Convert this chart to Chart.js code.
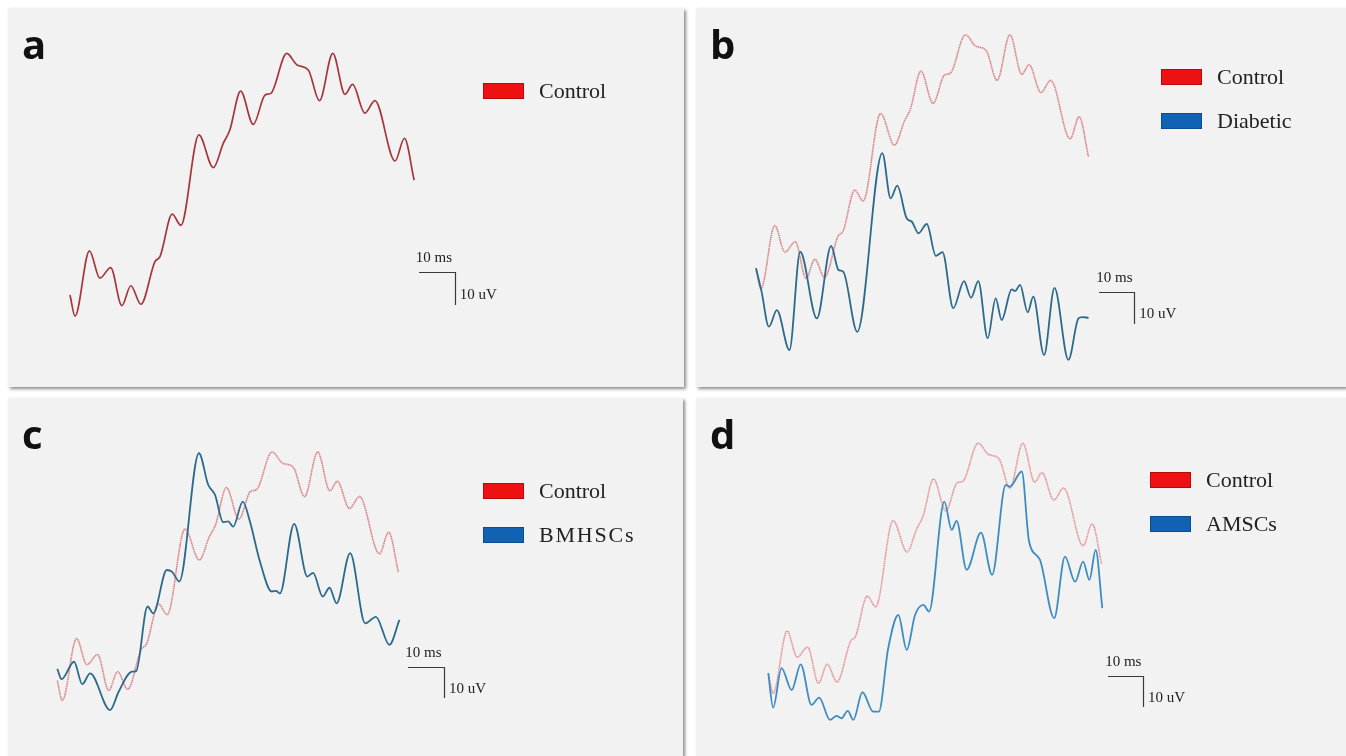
<!DOCTYPE html>
<html>
<head>
<meta charset="utf-8">
<script src="https://cdn.jsdelivr.net/npm/chart.js@4.4.1/dist/chart.umd.min.js"></script>
<style>
  html, body { margin:0; padding:0; background:#ffffff; }
  body { width:1346px; height:756px; position:relative; overflow:hidden; }
  .panel { position:absolute; background:#f2f2f2; box-shadow:2px 2px 3px rgba(0,0,0,0.45); overflow:hidden; }
  .panel canvas { position:absolute; left:0; top:0; }
  .letter { position:absolute; left:14px; top:16px; font-family:"Open Sans", "DejaVu Sans", sans-serif; font-weight:700; font-size:40px; line-height:40px; color:#111; }
  .leg { position:absolute; font-family:"Liberation Serif", "DejaVu Serif", serif; font-size:22px; line-height:16px; color:#222; white-space:nowrap; }
  .leg .box { position:absolute; left:0; top:0; width:39px; height:14px; border:1px solid; }
  .leg .txt { position:absolute; left:56px; top:0; }
  .sb { position:absolute; font-family:"Liberation Serif", "DejaVu Serif", serif; font-size:15px; line-height:15px; color:#222; white-space:nowrap; }
</style>
</head>
<body>
<script>
// ---- Data (time in ms, amplitude in uV) ----
const controlTime = [0,1.4,5.4,8.3,11.3,14.4,16.9,19.7,23.6,25.0,28.4,30.8,35.8,39.8,42.6,44.4,47.4,50.9,54.2,55.8,60.2,63.1,66.2,69.3,73.0,76.4,78.5,81.9,84.7,90.3,92.9,95.6];
const controlAmp  = [0,-6.4,13.4,5.1,8.3,-3.2,2.8,-2.8,10.1,11.6,24.5,21.1,48.5,38.6,46.0,50.0,61.8,51.7,60.6,61.1,73.2,69.7,68.2,58.9,73.2,60.8,63.8,55.1,58.9,40.6,47.5,34.8];

const diabeticTime = [0,1.6,3.7,6.0,9.6,12.7,17.5,21.6,23.7,25.1,29.1,36.3,38.7,40.6,43.3,44.8,46.7,49.1,51.7,53.6,56.7,59.8,61.8,63.9,66.6,68.9,70.6,73.5,74.5,75.9,78.1,79.7,82.8,85.8,89.8,92.7,93.8,95.6];
const diabeticAmp  = [0,-7.3,-18.3,-13.1,-25.6,5.2,-15.7,7.0,-0.5,-1.1,-19.9,36.1,21.9,25.9,15.7,14.6,11.0,13.9,3.9,5.1,-12.5,-4.0,-9.2,-4.0,-21.9,-9.4,-16.2,-6.6,-7.1,-5.2,-13.8,-8.9,-27.2,-6.1,-28.7,-15.7,-15.3,-15.5];

const bmhscTime = [0,1.2,4.7,7.0,9.2,14.8,17.2,20.9,22.1,25.3,26.9,30.7,32.2,34.2,39.7,42.3,44.2,46.5,47.9,49.3,52.0,54.0,56.8,60.1,61.3,62.4,66.4,70.1,71.7,74.4,76.3,78.3,82.1,86.3,89.3,93.1,95.9];
const bmhscAmp  = [3.7,0.4,6.0,-1.2,2.3,-9.5,-3.6,2.8,3.0,23.7,21.5,35.4,34.8,31.7,72.8,62.7,59.5,50.7,51.0,49.3,57.3,50.9,38.1,28.5,28.7,27.9,50.2,33.3,34.5,26.9,29.7,24.7,40.8,18.3,20.4,11.4,19.4];

const amscTime = [0,1.4,3.8,6.7,9.3,12.4,14.6,17.7,19.6,21.0,22.8,24.4,27.0,30.1,31.7,34.4,37.3,39.7,42.1,44.5,46.1,50.5,52.6,54.0,56.9,61.0,64.2,68.1,69.3,72.7,74.8,77.9,82.0,85.1,88.0,90.3,92.1,93.9,95.8];
const amscAmp  = [0,-11.0,1.6,-5.4,2.8,-10.1,-7.8,-14.9,-13.6,-14.4,-12.0,-14.9,-6.1,-12.3,-12.3,7.9,18.5,7.4,18.5,21.7,19.6,54.6,45.6,48.5,32.9,44.7,31.3,59.9,59.4,64.2,41.9,36.1,17.5,37.1,29.1,35.5,29.7,39.2,20.7];

const panelLetters = ['a','b','c','d'];
const scaleBarLabels = ['10 ms','10 uV'];

function pts(t, v){ return t.map((x,i)=>({x:x, y:v[i]})); }

const legendRed  = {fill:'#ee1111', edge:'#b40a0a'};
const legendBlue = {fill:'#1262b4', edge:'#0b4d92'};

const panels = [
  { letter:panelLetters[0], left:8, top:8, width:676, height:379,
    x:[-17.22,170.56], y:[-27.88,86.97], bar:{t:106.9, v:7.0},
    legend:{left:475, top:75},
    series:[ {label:'Control', t:controlTime, v:controlAmp, color:'#a5373b', width:1.7, dash:[], leg:legendRed} ] },
  { letter:panelLetters[1], left:696, top:8, width:650, height:379,
    x:[-17.25,169.6], y:[-37.2,81.6], bar:{t:108.7, v:-7.4},
    legend:{left:465, top:61},
    series:[ {label:'Control', t:controlTime, v:controlAmp, color:'#da8385', width:1.6, dash:[1.6,0.6], leg:legendRed},
             {label:'Diabetic', t:diabeticTime, v:diabeticAmp, color:'#2c6a8b', width:1.8, dash:[], leg:legendBlue} ] },
  { letter:panelLetters[2], left:8, top:398, width:675, height:358,
    x:[-13.82,175.4], y:[-24.2,90.5], bar:{t:108.4, v:4.3},
    legend:{left:475, top:85},
    series:[ {label:'Control', t:controlTime, v:controlAmp, color:'#da8385', width:1.6, dash:[1.6,0.6], leg:legendRed},
             {label:'BMHSCs', t:bmhscTime, v:bmhscAmp, color:'#2c6a8b', width:1.8, dash:[], leg:legendBlue, spacing:'1.8px'} ] },
  { letter:panelLetters[3], left:696, top:398, width:650, height:358,
    x:[-20.73,165.7], y:[-26.4,87.6], bar:{t:107.5, v:-0.9},
    legend:{left:454, top:74},
    series:[ {label:'Control', t:controlTime, v:controlAmp, color:'#e69496', width:1.6, dash:[1.6,0.6], leg:legendRed},
             {label:'AMSCs', t:amscTime, v:amscAmp, color:'#3d8dc2', width:1.8, dash:[], leg:legendBlue} ] }
];

const labelEls = new Map();

const scaleBarPlugin = {
  id:'scaleBar',
  afterDraw(chart, args, opts){
    const ctx = chart.ctx, xs = chart.scales.x, ys = chart.scales.y;
    const xr = xs.getPixelForValue(opts.t), xl = xs.getPixelForValue(opts.t - 10);
    const yt = ys.getPixelForValue(opts.v), yb = ys.getPixelForValue(opts.v - 10);
    ctx.save();
    ctx.strokeStyle = '#3a3a3a';
    ctx.lineWidth = 1.2;
    ctx.beginPath();
    ctx.moveTo(Math.round(xl), Math.round(yt)+0.5);
    ctx.lineTo(Math.round(xr)+0.5, Math.round(yt)+0.5);
    ctx.lineTo(Math.round(xr)+0.5, Math.round(yb));
    ctx.stroke();
    ctx.restore();
    const els = labelEls.get(chart.canvas);
    if (els){
      els.ms.style.left = (xl - 3) + 'px';
      els.ms.style.top  = (yt - 9 - 12.6) + 'px';
      els.uv.style.left = (xr + 5) + 'px';
      els.uv.style.top  = (yb - 5 - 12.6) + 'px';
    }
  }
};

panels.forEach(p => {
  const div = document.createElement('div');
  div.className = 'panel';
  Object.assign(div.style, {left:p.left+'px', top:p.top+'px', width:p.width+'px', height:p.height+'px'});
  document.body.appendChild(div);

  const cv = document.createElement('canvas');
  cv.width = p.width; cv.height = p.height;
  cv.style.width = p.width+'px'; cv.style.height = p.height+'px';
  div.appendChild(cv);

  const L = document.createElement('div');
  L.className = 'letter'; L.textContent = p.letter;
  div.appendChild(L);

  p.series.forEach((s, i) => {
    const it = document.createElement('div');
    it.className = 'leg';
    it.style.left = p.legend.left + 'px';
    it.style.top = (p.legend.top + i*44) + 'px';
    const b = document.createElement('div'); b.className = 'box';
    b.style.background = s.leg.fill; b.style.borderColor = s.leg.edge;
    const tx = document.createElement('div'); tx.className = 'txt'; tx.textContent = s.label;
    if (s.spacing) tx.style.letterSpacing = s.spacing;
    it.appendChild(b); it.appendChild(tx);
    div.appendChild(it);
  });

  const ms = document.createElement('div'); ms.className = 'sb'; ms.textContent = scaleBarLabels[0];
  const uv = document.createElement('div'); uv.className = 'sb'; uv.textContent = scaleBarLabels[1];
  div.appendChild(ms); div.appendChild(uv);
  labelEls.set(cv, {ms, uv});

  const datasets = p.series.map((s, i) => ({
    label: s.label,
    data: pts(s.t, s.v),
    borderColor: s.color,
    borderWidth: s.width,
    borderDash: s.dash,
    pointRadius: 0,
    fill: false,
    cubicInterpolationMode: 'monotone',
    order: p.series.length - i
  }));

  new Chart(cv, {
    type: 'line',
    data: { datasets },
    options: {
      responsive: false,
      maintainAspectRatio: false,
      animation: false,
      devicePixelRatio: 1,
      layout: { padding: 0 },
      events: [],
      scales: {
        x: { type:'linear', display:false, min:p.x[0], max:p.x[1] },
        y: { type:'linear', display:false, min:p.y[0], max:p.y[1] }
      },
      plugins: {
        legend: { display:false },
        tooltip: { enabled:false },
        scaleBar: { t:p.bar.t, v:p.bar.v }
      }
    },
    plugins: [scaleBarPlugin]
  });
});
</script>
</body>
</html>
